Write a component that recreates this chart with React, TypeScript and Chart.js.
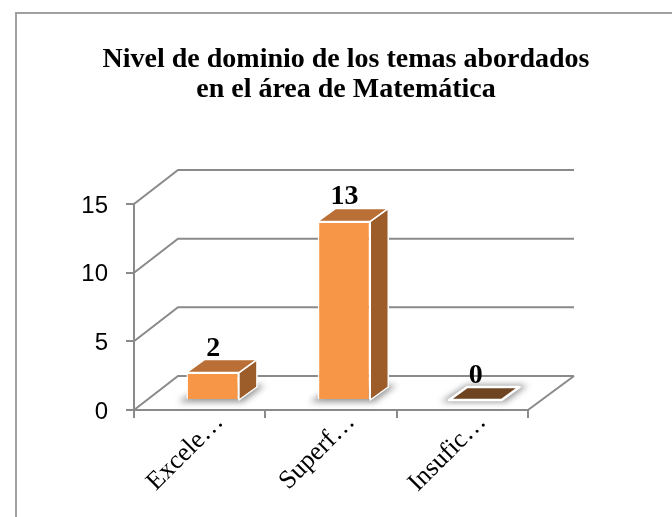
import React, { useEffect, useRef } from "react";
import { Chart, registerables } from "chart.js";

Chart.register(...registerables);

const titleLines = ["Nivel de dominio de los temas abordados", "en el área de Matemática"];
const categories = ["Excele…", "Superf…", "Insufic…"];
const values = [2, 13, 0];
const yTicks = [0, 5, 10, 15];

const WALL_DX = 44;
const WALL_DX_RIGHT = 46;
const WALL_DY = -34;
const BAR_DX = 13;
const BAR_DY = -10;
const TOP_DX = 18;
const TOP_DY = -13;

const AXIS = "#8a8a8a";
const FRONT = "#F79646";
const TOP = "#B96F35";
const SIDE = "#9C5D2B";
const ZERO = "#6F4420";

function poly(ctx: CanvasRenderingContext2D, pts: number[][], fill: string, stroke?: string, lw = 1.5) {
  ctx.beginPath();
  pts.forEach(([x, y], i) => (i ? ctx.lineTo(x, y) : ctx.moveTo(x, y)));
  ctx.closePath();
  ctx.fillStyle = fill;
  ctx.fill();
  if (stroke) {
    ctx.strokeStyle = stroke;
    ctx.lineWidth = lw;
    ctx.lineJoin = "round";
    ctx.stroke();
  }
}

const wallPlugin = {
  id: "wall3d",
  beforeDatasetsDraw(chart: any) {
    const { ctx, chartArea: a, scales } = chart;
    ctx.save();
    ctx.strokeStyle = AXIS;
    ctx.lineWidth = 2;
    yTicks.forEach((t) => {
      const y = scales.y.getPixelForValue(t);
      ctx.beginPath();
      ctx.moveTo(a.left, y);
      ctx.lineTo(a.left + WALL_DX, y + WALL_DY);
      ctx.lineTo(a.right + WALL_DX_RIGHT, y + WALL_DY);
      ctx.stroke();
    });
    const y0 = scales.y.getPixelForValue(0);
    ctx.beginPath();
    ctx.moveTo(a.right, y0);
    ctx.lineTo(a.right + WALL_DX_RIGHT, y0 + WALL_DY);
    ctx.stroke();

    // soft shadows on the floor, under each bar
    const meta = chart.getDatasetMeta(0);
    meta.data.forEach((bar: any) => {
      const half = bar.width / 2;
      const x = bar.x + BAR_DX;
      const b = y0 + BAR_DY;
      ctx.save();
      ctx.filter = "blur(3px)";
      poly(ctx, [
        [x - half - 8, b + 2],
        [x + half + 4, b + 2],
        [x + half + TOP_DX + 8, b + TOP_DY - 2],
        [x - half + TOP_DX, b + TOP_DY - 2],
      ], "rgba(90,90,90,0.65)");
      ctx.restore();
    });
    ctx.restore();
  },
  beforeDatasetDraw(chart: any) {
    const { ctx, scales } = chart;
    const y0 = scales.y.getPixelForValue(0);
    const meta = chart.getDatasetMeta(0);
    ctx.save();
    meta.data.forEach((bar: any, i: number) => {
      const half = bar.width / 2;
      const l = bar.x + BAR_DX - half;
      const r = bar.x + BAR_DX + half;
      const t = bar.y + BAR_DY;
      const b = y0 + BAR_DY;
      if (values[i] === 0) {
        poly(ctx, [[l, b], [r, b], [r + TOP_DX, b + TOP_DY], [l + TOP_DX, b + TOP_DY]], ZERO, "#ffffff", 2.5);
        return;
      }
      poly(ctx, [[r, t], [r + TOP_DX, t + TOP_DY], [r + TOP_DX, b + TOP_DY], [r, b]], SIDE, "#ffffff");
      poly(ctx, [[l, t], [r, t], [r + TOP_DX, t + TOP_DY], [l + TOP_DX, t + TOP_DY]], TOP, "#ffffff");
    });
    ctx.restore();
    ctx.save();
    ctx.translate(BAR_DX, BAR_DY);
  },
  afterDatasetDraw(chart: any) {
    chart.ctx.restore();
  },
  afterDatasetsDraw(chart: any) {
    const { ctx } = chart;
    const meta = chart.getDatasetMeta(0);
    ctx.save();
    ctx.fillStyle = "#000";
    ctx.font = "bold 28px 'Liberation Serif'";
    ctx.textAlign = "center";
    ctx.textBaseline = "alphabetic";
    meta.data.forEach((bar: any, i: number) => {
      ctx.fillText(String(values[i]), bar.x + BAR_DX + 0.5, bar.y + BAR_DY - 17);
    });
    ctx.restore();
  },
};

export default function App() {
  const ref = useRef<HTMLCanvasElement | null>(null);
  useEffect(() => {
    if (!ref.current) return;
    const chart = new Chart(ref.current, {
      type: "bar",
      data: {
        labels: categories,
        datasets: [
          {
            data: values,
            backgroundColor: FRONT,
            borderColor: "#ffffff",
            borderWidth: 1.5,
            barPercentage: 0.4,
            categoryPercentage: 1,
          },
        ],
      },
      plugins: [wallPlugin],
      options: {
        responsive: false,
        animation: false,
        layout: { padding: 0 },
        plugins: {
          legend: { display: false },
          tooltip: { enabled: false },
          title: {
            display: true,
            text: titleLines,
            color: "#000",
            font: { family: "'Liberation Serif'", size: 28, weight: "bold", lineHeight: 1.1 },
            padding: { top: 44, bottom: 98.4 },
          },
        },
        scales: {
          x: {
            afterFit(s: any) { s.height = 107; },
            grid: { offset: true, drawOnChartArea: false, color: AXIS, tickLength: 8, lineWidth: 2 },
            border: { color: AXIS, width: 2 },
            ticks: {
              color: "#000",
              font: { family: "'Liberation Serif'", size: 26 },
              maxRotation: 45,
              minRotation: 45,
              autoSkip: false,
              labelOffset: 20,
              padding: -11,
            },
          },
          y: {
            min: 0,
            max: 15,
            afterFit(s: any) { s.width = 134; },
            grid: { drawOnChartArea: false, color: AXIS, tickLength: 8, lineWidth: 2 },
            border: { color: AXIS, width: 2 },
            ticks: {
              stepSize: 5,
              color: "#000",
              font: { family: "'Liberation Sans'", size: 24 },
              padding: 18,
              labelOffset: 2,
            },
          },
          spacer: {
            position: "right",
            min: 0,
            max: 15,
            afterFit(s: any) { s.width = 164; },
            grid: { display: false },
            border: { display: false },
            ticks: { display: false },
          },
        },
      },
    });
    return () => chart.destroy();
  }, []);
  return (
    <div style={{ position: "fixed", left: 0, top: 0, width: 672, height: 517, background: "#fff", overflow: "hidden" }}>
      <div
        style={{
          position: "absolute",
          left: 15,
          top: 12,
          width: 670,
          height: 520,
          border: "2px solid #a0a0a0",
          boxSizing: "border-box",
        }}
      />
      <canvas
        ref={ref}
        width={692}
        height={517}
        style={{ position: "absolute", left: 0, top: 0, display: "block" }}
      />
    </div>
  );
}
